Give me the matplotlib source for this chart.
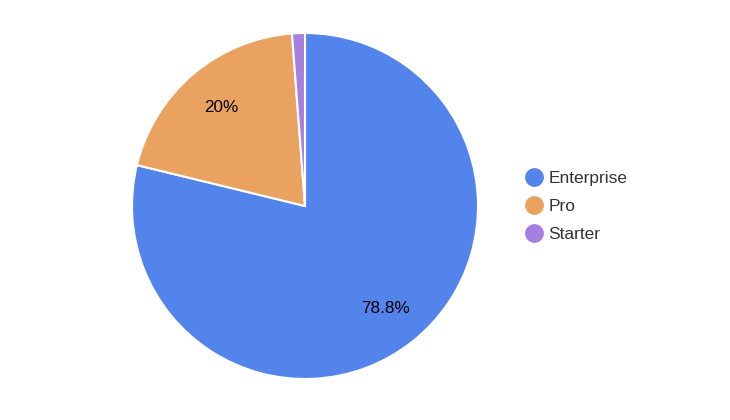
import matplotlib.pyplot as plt
from matplotlib.lines import Line2D

plt.rcParams['font.family'] = ['Liberation Sans', 'DejaVu Sans']

plans = ['Enterprise', 'Pro', 'Starter']
shares = [78.8, 20.0, 1.2]
colors = ['#5384EC', '#E9A25F', '#A77FE0']


def pct_label(p):
    # small slices get no label
    if p < 5:
        return ''
    return f'{p:.1f}%'.replace('.0%', '%')


fig = plt.figure(figsize=(7.3, 4.2), dpi=100)
ax = fig.add_axes([132 / 730, 41 / 420, 346 / 730, 346 / 420])

wedges, texts, autotexts = ax.pie(
    shares, colors=colors, startangle=90, counterclock=False,
    autopct=pct_label, pctdistance=0.75,
    wedgeprops=dict(edgecolor='white', linewidth=1.5),
    textprops=dict(fontsize=12.3, color='black'))
ax.set_xlim(-1, 1)
ax.set_ylim(-1, 1)
ax.set_aspect('equal')

handles = [Line2D([], [], marker='o', linestyle='none', markersize=12.5,
                  markerfacecolor=c, markeredgecolor=c) for c in colors]
fig.legend(handles, plans, loc='center left',
           bbox_to_anchor=(526 / 730, 1 - 206.5 / 420),
           frameon=False, fontsize=12.5, labelcolor='#333333',
           handlelength=0.9, handletextpad=0.4, labelspacing=0.72,
           borderpad=0, borderaxespad=0)

fig.savefig('out.png', dpi=100)
